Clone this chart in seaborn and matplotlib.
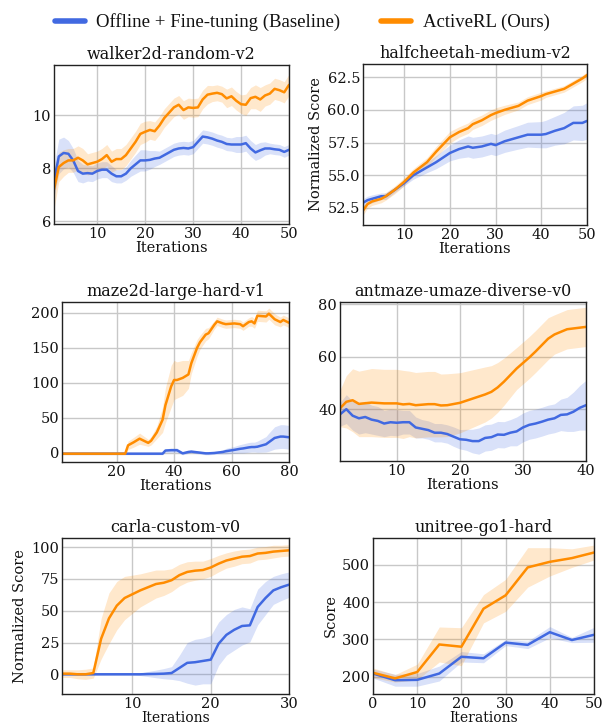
import numpy as np
import pandas as pd
import matplotlib
matplotlib.use("Agg")
import matplotlib.pyplot as plt
from matplotlib.lines import Line2D
import seaborn as sns

# ---------------- data ----------------
methods = ["Offline + Fine-tuning (Baseline)", "ActiveRL (Ours)"]
colors = ["#4169E1", "#FF8C00"]

walker_x = list(range(1, 51))
walker_active = [7.2, 8.05, 8.2, 8.3, 8.3, 8.4, 8.3, 8.15, 8.2, 8.25, 8.35, 8.5, 8.25, 8.35, 8.35, 8.5, 8.75, 9.0, 9.3, 9.38,
                 9.45, 9.4, 9.62, 9.9, 10.1, 10.3, 10.4, 10.2, 10.3, 10.28, 10.3, 10.6, 10.78, 10.82, 10.85, 10.8, 10.64, 10.72, 10.55, 10.42,
                 10.4, 10.65, 10.7, 10.6, 10.75, 10.82, 11.0, 10.95, 10.87, 11.15]
walker_active_sd = [0.75, 0.55, 0.5, 0.45, 0.45, 0.45, 0.45, 0.4, 0.4, 0.4, 0.4, 0.4, 0.4, 0.4, 0.4, 0.4, 0.4, 0.4, 0.4, 0.4,
                    0.35, 0.35, 0.35, 0.35, 0.35, 0.35, 0.35, 0.35, 0.35, 0.35, 0.35, 0.35, 0.35, 0.3, 0.3, 0.3, 0.35, 0.35, 0.35, 0.35,
                    0.4, 0.4, 0.45, 0.45, 0.4, 0.4, 0.4, 0.4, 0.4, 0.4]
walker_base = [7.5, 8.45, 8.58, 8.55, 8.3, 7.9, 7.8, 7.82, 7.8, 7.9, 7.95, 7.95, 7.8, 7.7, 7.7, 7.8, 8.0, 8.15, 8.3, 8.3,
               8.32, 8.37, 8.4, 8.5, 8.6, 8.7, 8.75, 8.77, 8.75, 8.8, 9.0, 9.2, 9.17, 9.12, 9.05, 9.0, 8.92, 8.9, 8.9, 8.9,
               8.95, 8.75, 8.6, 8.68, 8.75, 8.75, 8.72, 8.7, 8.62, 8.7]
walker_base_sd = [0.6, 0.65, 0.6, 0.5, 0.45, 0.4, 0.35, 0.3, 0.3, 0.3, 0.3, 0.3, 0.3, 0.25, 0.25, 0.25, 0.3, 0.35, 0.4, 0.4,
                  0.35, 0.3, 0.25, 0.25, 0.25, 0.25, 0.25, 0.25, 0.25, 0.25, 0.25, 0.25, 0.25, 0.25, 0.25, 0.25, 0.25, 0.25, 0.3, 0.3,
                  0.3, 0.3, 0.3, 0.3, 0.25, 0.2, 0.2, 0.2, 0.2, 0.2]

cheetah_x = [1, 2, 3, 5, 6, 8, 10, 12, 15, 17, 20, 22, 24, 25, 27, 29, 30, 32, 35, 37, 40, 41, 43, 45, 47, 49, 50]
cheetah_active = [52.3, 52.8, 53.0, 53.2, 53.4, 53.9, 54.5, 55.2, 56.0, 56.8, 57.9, 58.3, 58.6, 58.9, 59.2, 59.6, 59.75, 60.0,
                  60.3, 60.7, 61.05, 61.2, 61.4, 61.6, 62.0, 62.4, 62.65]
cheetah_active_sd = [0.35, 0.3, 0.3, 0.3, 0.3, 0.3, 0.3, 0.3, 0.35, 0.4, 0.45, 0.4, 0.4, 0.4, 0.4, 0.4, 0.4, 0.35,
                     0.3, 0.3, 0.3, 0.25, 0.25, 0.25, 0.25, 0.25, 0.25]
cheetah_base = [52.9, 53.1, 53.2, 53.4, 53.4, 53.9, 54.4, 55.0, 55.6, 56.0, 56.7, 57.0, 57.2, 57.1, 57.2, 57.4, 57.3, 57.6,
                57.9, 58.1, 58.1, 58.15, 58.4, 58.6, 59.0, 59.0, 59.15]
cheetah_base_sd = [0.3, 0.3, 0.3, 0.25, 0.25, 0.2, 0.2, 0.3, 0.4, 0.5, 0.6, 0.7, 0.8, 0.8, 0.8, 0.8, 0.8, 0.85,
                   0.9, 0.95, 1.0, 1.05, 1.1, 1.2, 1.3, 1.35, 1.4]

maze_x = [1, 22, 23, 24, 26, 28, 29, 31, 32, 34, 36, 37, 39, 40, 41, 43, 45, 46, 48, 49, 51, 52, 54, 55, 57, 58,
          61, 63, 64, 66, 67, 68, 69, 72, 73, 75, 77, 78, 80]
maze_active = [-1.5, -1.5, -1.5, 10.5, 15, 20, 18, 14, 17, 29, 47, 68, 95, 104, 104, 107, 112, 128, 150, 158, 169, 171,
               183, 188, 185, 184, 185, 184, 181, 187, 188, 185, 196, 195, 199, 191, 187, 190, 186]
maze_active_sd = [1.5, 1.5, 1.5, 6, 7, 8, 7, 5, 6, 9, 18, 25, 30, 28, 26, 25, 20, 15, 12, 10, 9, 8,
                  6, 6, 6, 6, 6, 6, 6, 6, 7, 7, 8, 8, 8, 8, 7, 7, 7]
maze_base = [-1.5, -1.5, -1.5, -1.5, -1.5, -1.5, -1.5, -1.5, -1.5, -1.5, -1.5, 3, 3.5, 3.5, 3.5, -1, 1, 1.5, 0.5, 0,
             -1, -1, -0.5, 0, 1, 2, 4, 5.5, 6, 7.5, 8, 8, 8.5, 12, 15, 21, 23, 23, 22]
maze_base_sd = [1.5, 1.5, 1.5, 1.5, 1.5, 1.5, 1.5, 1.5, 1.5, 1.5, 1.5, 2.5, 3, 3, 3, 2, 2, 2, 2, 2,
                2, 2, 2, 2, 3, 4, 5, 6, 6.5, 7, 7, 7, 8, 11, 13, 16, 17, 17, 17]

ant_active_x = [1, 2, 3, 4, 6, 8, 10, 11, 12, 13, 15, 16, 17, 18, 20, 22, 24, 25, 26, 27, 29, 31, 32, 34, 35, 37, 40]
ant_active = [40.3, 42.8, 43.4, 42.0, 42.5, 42.2, 42.2, 41.8, 42.0, 41.5, 41.9, 41.9, 41.4, 41.5, 42.4, 44.0, 45.6, 46.6,
              48.3, 50.5, 55.5, 59.7, 62.0, 66.9, 68.5, 70.5, 71.4]
ant_active_sd = [7, 10, 12, 12.5, 13, 13, 13, 13, 12.5, 12.5, 12.5, 12.5, 12, 12, 11.5, 11, 10.5, 10, 9.5, 9, 8, 8,
                 8, 8, 7.5, 7.5, 7.5]
ant_base_x = list(range(1, 41))
ant_base = [38, 40, 37.5, 36.5, 37, 36, 35.5, 34.5, 35, 34.8, 35, 35, 33, 32.5, 32, 31, 31, 30.5, 29.5, 28.5,
            28.3, 27.8, 27.8, 29, 29.3, 30.3, 30.2, 31, 31.5, 33, 34, 34.5, 35.2, 36, 36.5, 37.8, 38, 39, 40.5, 41.5]
ant_base_sd = [4.5, 5.5, 5.5, 6, 6, 5.5, 5.5, 5, 5, 5, 4.5, 4.5, 4, 3.5, 3.5, 3.5, 3.5, 3.5, 3.7, 3.7,
               4, 4.5, 5, 5, 5, 5, 5, 5, 5.5, 5.5, 5.5, 5.5, 5.5, 5.5, 5.5, 6, 6.5, 7.5, 8.5, 9.5]

carla_x = list(range(1, 31))
carla_active = [0.5, 0.5, 0, 0, 1, 28, 44, 54, 60, 63, 66, 68.5, 71, 72, 74, 78, 80.5, 81.5, 82, 84,
                87, 89.5, 91, 92.5, 93, 95, 95.5, 96.5, 97, 97.5]
carla_active_sd = [3, 3, 3.5, 4, 4, 16, 20, 19, 17, 15, 13, 12, 11, 10, 9, 8.5, 8, 7.5, 7, 7,
                   6.5, 6, 6, 5.5, 5.5, 5, 5, 5, 4.5, 4.5]
carla_base = [0, 0, 0, 0, 0, 0, 0, 0, 0, 0, 0, 0.2, 0.3, 0.5, 1, 5, 9, 9.5, 10.5, 11.5,
              24, 31, 35, 38, 38.5, 53, 60, 66, 68.5, 70.5]
carla_base_sd = [0.5, 0.5, 0.5, 0.5, 0.5, 0.5, 0.5, 0.5, 0.5, 0.5, 1, 2, 3, 4, 5, 10, 16, 18, 18, 19,
                 17, 16, 16, 15, 13, 14, 13, 11, 10.5, 10]

go1_x = [0, 5, 10, 15, 20, 25, 30, 35, 40, 45, 50]
go1_active = [210, 195, 212, 286, 280, 382, 418, 493, 508, 518, 533]
go1_active_sd = [13, 10, 21, 47, 51, 38, 43, 53, 38, 25, 20]
go1_base = [208, 190, 191, 208, 253, 249, 291, 285, 319, 298, 312]
go1_base_sd = [12, 16, 17, 20, 14, 12, 8, 10, 15, 7, 20]

titles = ["walker2d-random-v2", "halfcheetah-medium-v2", "maze2d-large-hard-v1",
          "antmaze-umaze-diverse-v0", "carla-custom-v0", "unitree-go1-hard"]
ylabels = ["", "Normalized Score", "", "", "Normalized Score", "Score"]

# ---------------- style ----------------
sns.set_theme(style="whitegrid")
plt.rcParams["font.family"] = ["DejaVu Serif"]
plt.rcParams.update({
    "axes.edgecolor": "#222222",
    "axes.linewidth": 1.0,
    "grid.color": "#c8c8c8",
    "grid.linewidth": 1.0,
    "xtick.labelsize": 10.5,
    "ytick.labelsize": 10.5,
    "axes.labelsize": 10.5,
    "axes.titlesize": 11.5,
    "text.color": "#111111",
    "axes.labelcolor": "#111111",
    "xtick.color": "#111111",
    "ytick.color": "#111111",
})

W, H = 608, 725
fig = plt.figure(figsize=(W / 100, H / 100), dpi=100)


def box(l, t, r, b):
    return [l / W, 1 - b / H, (r - l) / W, (b - t) / H]


panels = [
    (box(54, 65, 289, 224), (walker_x, walker_base, walker_base_sd), (walker_x, walker_active, walker_active_sd),
     (1, 50), (5.9, 11.9), [10, 20, 30, 40, 50], [6, 8, 10]),
    (box(363, 64, 587, 225), (cheetah_x, cheetah_base, cheetah_base_sd), (cheetah_x, cheetah_active, cheetah_active_sd),
     (1, 50), (51.2, 63.5), [10, 20, 30, 40, 50], [52.5, 55.0, 57.5, 60.0, 62.5]),
    (box(62, 302, 289, 462), (maze_x, maze_base, maze_base_sd), (maze_x, maze_active, maze_active_sd),
     (1, 80), (-13.4, 215.7), [20, 40, 60, 80], [0, 50, 100, 150, 200]),
    (box(340, 302, 586, 461), (ant_base_x, ant_base, ant_base_sd), (ant_active_x, ant_active, ant_active_sd),
     (1, 40), (20.2, 80.9), [10, 20, 30, 40], [40, 60, 80]),
    (box(62, 538, 289, 694), (carla_x, carla_base, carla_base_sd), (carla_x, carla_active, carla_active_sd),
     (1, 30), (-15.5, 107.2), [10, 20, 30], [0, 25, 50, 75, 100]),
    (box(373, 538, 594, 694), (go1_x, go1_base, go1_base_sd), (go1_x, go1_active, go1_active_sd),
     (0, 50), (153, 572), [0, 10, 20, 30, 40, 50], [200, 300, 400, 500]),
]

for i, (pos, base, active, xlim, ylim, xt, yt) in enumerate(panels):
    ax = fig.add_axes(pos)
    frames = []
    for (xs, ms, sds), name in zip([base, active], methods):
        frames.append(pd.DataFrame({"Iterations": xs, "Score": ms, "sd": sds, "Method": name}))
    df = pd.concat(frames, ignore_index=True)
    for name, col in zip(methods, colors):
        d = df[df["Method"] == name]
        ax.fill_between(d["Iterations"], d["Score"] - d["sd"], d["Score"] + d["sd"],
                        color=col, alpha=0.2, linewidth=0)
    sns.lineplot(data=df, x="Iterations", y="Score", hue="Method", hue_order=methods,
                 palette=colors, linewidth=1.8, errorbar=None, legend=False, ax=ax)
    ax.set_xlim(*xlim)
    ax.set_ylim(*ylim)
    ax.set_xticks(xt)
    ax.set_yticks(yt)
    if i == 1:
        ax.set_yticklabels([f"{v:.1f}" for v in yt])
    ax.set_title(titles[i], pad=4)
    ax.set_xlabel("Iterations", labelpad=0, fontsize=(10 if i >= 4 else 10.5))
    ax.set_ylabel(ylabels[i], labelpad=3)
    ax.tick_params(length=0, pad=2)
    for s in ax.spines.values():
        s.set_color("#222222")

handles = [Line2D([0], [0], color=c, lw=4, solid_capstyle="round") for c in colors]
fig.legend(handles, methods, loc="upper center", bbox_to_anchor=(0.497, 1.005), ncol=2, frameon=False,
           prop={"family": "Liberation Serif", "size": 13.5}, handlelength=1.6, handletextpad=0.6,
           columnspacing=2.2)

fig.savefig("out.png", dpi=100)
